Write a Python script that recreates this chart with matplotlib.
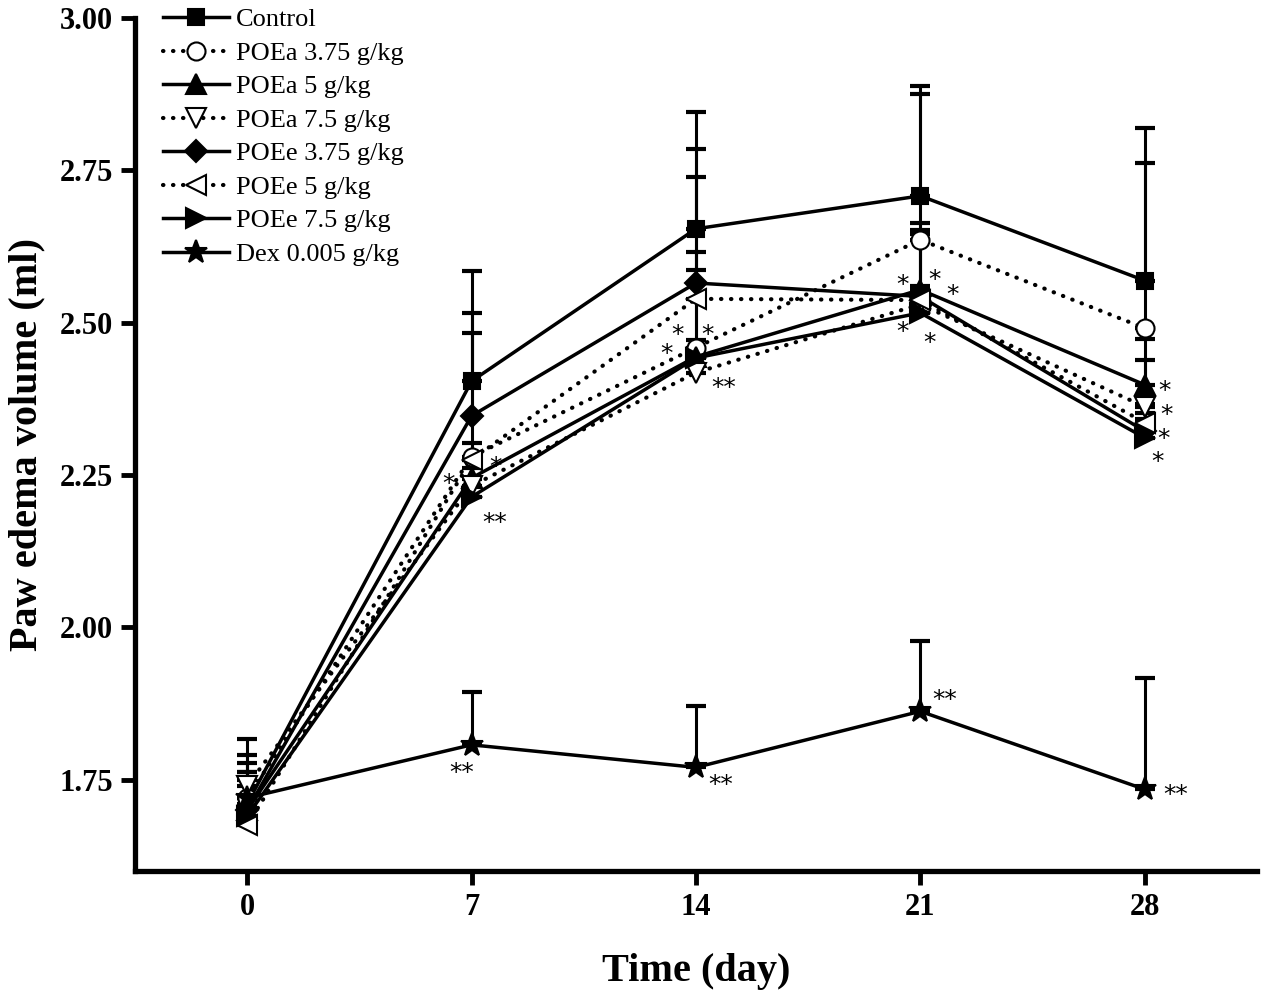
import matplotlib
matplotlib.use('Agg')
import matplotlib.pyplot as plt
from matplotlib.ticker import FixedLocator, FormatStrFormatter

plt.rcParams['font.family'] = 'Liberation Serif'

# 数据
days = [0, 7, 14, 21, 28]
control = [1.710, 2.404, 2.654, 2.708, 2.569]
poea_375 = [1.720, 2.280, 2.459, 2.636, 2.491]
poea_5 = [1.700, 2.245, 2.444, 2.554, 2.398]
poea_75 = [1.740, 2.232, 2.418, 2.530, 2.362]
poee_375 = [1.700, 2.347, 2.565, 2.543, 2.322]
poee_5 = [1.675, 2.275, 2.539, 2.537, 2.336]
poee_75 = [1.690, 2.214, 2.442, 2.516, 2.311]
dex = [1.720, 1.807, 1.770, 1.862, 1.734]

# 误差 (只画上方)
control_sd = [0.106, 0.181, 0.192, 0.180, 0.251]
poea_375_sd = [0.071, 0.203, 0.326, 0.239, 0.271]
poea_5_sd = [0.078, 0.030, 0.172, 0.110, 0.075]
poea_75_sd = [0.022, 0.030, 0.030, 0.030, 0.077]
poee_375_sd = [0.062, 0.169, 0.174, 0.109, 0.030]
poee_5_sd = [0.030, 0.028, 0.048, 0.108, 0.030]
poee_75_sd = [0.030, 0.030, 0.030, 0.030, 0.030]
dex_sd = [0.030, 0.086, 0.101, 0.116, 0.182]

labels = ['Control', 'POEa 3.75 g/kg', 'POEa 5 g/kg', 'POEa 7.5 g/kg',
          'POEe 3.75 g/kg', 'POEe 5 g/kg', 'POEe 7.5 g/kg', 'Dex 0.005 g/kg']
series = [control, poea_375, poea_5, poea_75, poee_375, poee_5, poee_75, dex]
errors = [control_sd, poea_375_sd, poea_5_sd, poea_75_sd,
          poee_375_sd, poee_5_sd, poee_75_sd, dex_sd]

dotted = (0, (0.1, 2.3))
styles = [
    dict(marker='s', mfc='black', ls='-', ms=12),
    dict(marker='o', mfc='white', ls=dotted, ms=13),
    dict(marker='^', mfc='black', ls='-', ms=14),
    dict(marker='v', mfc='white', ls=dotted, ms=14),
    dict(marker='D', mfc='black', ls='-', ms=11),
    dict(marker='<', mfc='white', ls=dotted, ms=14),
    dict(marker='>', mfc='black', ls='-', ms=14),
    dict(marker='*', mfc='black', ls='-', ms=17),
]

fig = plt.figure(figsize=(12.67, 9.93), dpi=100)
ax = fig.add_axes([0.1066, 0.1229, 0.8854, 0.8590])

for i, (vals, err) in enumerate(zip(series, errors)):
    ax.errorbar(days, vals, yerr=[[0] * len(err), err], fmt='none', ecolor='black',
                elinewidth=2.2, capsize=7, capthick=3, zorder=1)
for i, vals in enumerate(series):
    st = styles[i]
    lw = 3 if st['ls'] is dotted else 2.5
    ax.plot(days, vals, color='black', linestyle=st['ls'], linewidth=lw,
            dash_capstyle='round', marker=st['marker'], markersize=st['ms'],
            markerfacecolor=st['mfc'], markeredgecolor='black', markeredgewidth=1.5,
            label=labels[i], zorder=3 + i * 0.1)

# 显著性星号: (系列序号, 天序号, 文本, 偏移像素 dx, dy)
stars = [
    (2, 1, '*', -23, 0), (1, 1, '*', 24, 5), (6, 1, '**', 23, 21),
    (1, 2, '*', -18, -18), (1, 2, '*', 12, -18), (2, 2, '*', -29, -8), (3, 2, '**', 28, 10),
    (2, 3, '*', -18, -10), (2, 3, '*', 14, -15), (2, 3, '*', 32, 0),
    (6, 3, '*', -18, 14), (6, 3, '*', 9, 25),
    (2, 4, '*', 20, 1), (3, 4, '*', 22, 3), (5, 4, '*', 19, 11), (6, 4, '*', 13, 19),
    (7, 1, '**', -10, 23), (7, 2, '**', 25, 12), (7, 3, '**', 24, -17), (7, 4, '**', 31, 0),
]
for si, di, txt, dx, dy in stars:
    ax.annotate(txt, xy=(days[di], series[si][di]), xytext=(dx * 0.72, -dy * 0.72 - 4),
                textcoords='offset points', ha='center', va='center',
                fontsize=18, family='DejaVu Sans', zorder=6)

ax.set_xlim(-3.5, 31.5)
ax.set_ylim(1.6, 3.0)
ax.set_xticks(days)
ax.yaxis.set_major_locator(FixedLocator([1.75, 2.00, 2.25, 2.50, 2.75, 3.00]))
ax.yaxis.set_major_formatter(FormatStrFormatter('%.2f'))

for side in ['top', 'right']:
    ax.spines[side].set_visible(False)
for side in ['left', 'bottom']:
    ax.spines[side].set_linewidth(3.8)
ax.tick_params(direction='out', length=10, width=3.5, labelsize=22, pad=6)
for lab in ax.get_xticklabels() + ax.get_yticklabels():
    lab.set_fontweight('bold')

ax.set_xlabel('Time (day)', fontsize=29, fontweight='bold', labelpad=22)
ax.set_ylabel('Paw edema volume (ml)', fontsize=29, fontweight='bold', labelpad=10)

ax.legend(loc='upper left', bbox_to_anchor=(163 / 1267, 1 - 8 / 993),
          bbox_transform=fig.transFigure, frameon=False, fontsize=19,
          handlelength=2.5, handletextpad=0.25, labelspacing=0.38,
          borderpad=0, borderaxespad=0)

plt.savefig('out.png', dpi=100)
